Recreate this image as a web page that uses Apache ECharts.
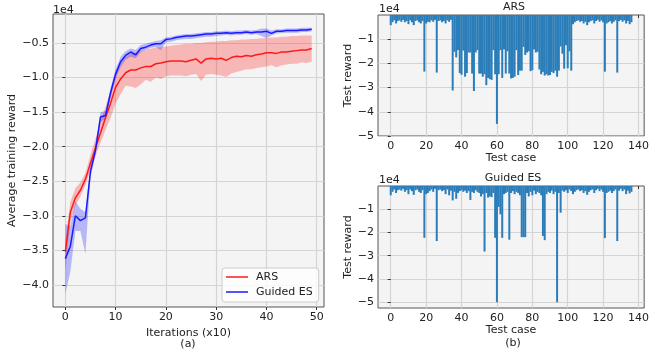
<!DOCTYPE html>
<html>
<head>
<meta charset="utf-8">
<script src="https://cdn.jsdelivr.net/npm/echarts@6/dist/echarts.min.js"></script>
<style>
  html, body { margin: 0; padding: 0; background: #fff; }
  #chart { width: 652px; height: 356px; }
</style>
</head>
<body>
<div id="chart"></div>
<script>
// values are in units of 1e4 (matplotlib offset label)
const arsMean = [-3.52, -2.95, -2.74, -2.63, -2.47, -2.24, -2.02, -1.80, -1.58, -1.37,
  -1.14, -1.02, -0.93, -0.89, -0.89, -0.86, -0.84, -0.84, -0.80, -0.79,
  -0.77, -0.76, -0.76, -0.76, -0.77, -0.75, -0.73, -0.79, -0.73, -0.72,
  -0.73, -0.72, -0.75, -0.71, -0.69, -0.70, -0.68, -0.69, -0.67, -0.66,
  -0.64, -0.64, -0.65, -0.63, -0.63, -0.62, -0.61, -0.60, -0.60, -0.58];
const arsLower = [-3.80, -3.10, -2.85, -2.72, -2.55, -2.34, -2.14, -1.94, -1.76, -1.58,
  -1.38, -1.24, -1.12, -1.13, -1.15, -1.10, -1.03, -1.06, -1.00, -1.02,
  -0.98, -0.97, -0.97, -0.97, -0.98, -0.96, -0.95, -1.05, -0.96, -0.95,
  -0.96, -0.97, -0.99, -0.94, -0.92, -0.90, -0.88, -0.88, -0.86, -0.85,
  -0.84, -0.82, -0.85, -0.82, -0.81, -0.80, -0.80, -0.78, -0.79, -0.77];
const arsUpper = [-3.35, -2.80, -2.60, -2.52, -2.38, -2.12, -1.88, -1.64, -1.42, -1.20,
  -0.92, -0.80, -0.71, -0.66, -0.64, -0.62, -0.60, -0.58, -0.57, -0.56,
  -0.55, -0.54, -0.53, -0.52, -0.51, -0.51, -0.50, -0.50, -0.49, -0.48,
  -0.48, -0.47, -0.47, -0.46, -0.46, -0.45, -0.45, -0.44, -0.44, -0.43,
  -0.43, -0.42, -0.42, -0.41, -0.41, -0.40, -0.40, -0.39, -0.39, -0.39];

const esMean = [-3.62, -3.44, -3.00, -3.07, -3.03, -2.36, -2.05, -1.57, -1.55, -1.22,
  -0.95, -0.77, -0.68, -0.63, -0.67, -0.58, -0.56, -0.53, -0.51, -0.51,
  -0.45, -0.44, -0.42, -0.41, -0.40, -0.40, -0.39, -0.38, -0.37, -0.37,
  -0.36, -0.36, -0.35, -0.36, -0.35, -0.35, -0.34, -0.35, -0.34, -0.34,
  -0.33, -0.36, -0.33, -0.33, -0.32, -0.32, -0.32, -0.31, -0.31, -0.30];
const esLower = [-4.13, -3.81, -3.22, -3.22, -3.55, -2.45, -2.12, -1.64, -1.60, -1.28,
  -1.02, -0.85, -0.74, -0.70, -0.72, -0.63, -0.60, -0.57, -0.56, -0.60,
  -0.49, -0.48, -0.46, -0.45, -0.44, -0.44, -0.43, -0.42, -0.41, -0.41,
  -0.40, -0.39, -0.38, -0.39, -0.38, -0.38, -0.37, -0.38, -0.37, -0.40,
  -0.43, -0.39, -0.36, -0.36, -0.35, -0.35, -0.35, -0.34, -0.34, -0.33];
const esUpper = [-3.12, -3.15, -2.79, -2.90, -2.95, -2.28, -1.98, -1.50, -1.48, -1.15,
  -0.88, -0.70, -0.62, -0.58, -0.60, -0.53, -0.51, -0.49, -0.47, -0.46,
  -0.42, -0.41, -0.39, -0.38, -0.37, -0.37, -0.36, -0.35, -0.34, -0.34,
  -0.33, -0.33, -0.32, -0.33, -0.32, -0.32, -0.31, -0.32, -0.31, -0.29,
  -0.29, -0.32, -0.30, -0.30, -0.29, -0.29, -0.29, -0.28, -0.28, -0.28];

// test reward per test case 0..136
const arsTest = [-0.42, -0.30, -0.22, -0.35, -0.25, -0.22, -0.28, -0.20, -0.30, -0.25,
  -0.38, -0.22, -0.30, -0.42, -0.25, -0.22, -0.30, -0.35, -0.25, -2.34,
  -0.35, -0.28, -0.30, -0.22, -0.28, -0.20, -2.38, -0.25, -0.22, -0.30,
  -0.25, -0.35, -0.22, -0.28, -0.20, -3.12, -1.52, -1.75, -1.45, -2.40,
  -2.47, -1.47, -2.55, -2.40, -1.55, -1.55, -2.42, -3.14, -1.55, -1.45,
  -2.42, -2.42, -2.55, -2.45, -2.90, -2.60, -2.65, -2.68, -1.45, -2.45,
  -4.50, -2.45, -1.45, -2.60, -1.42, -2.42, -1.50, -2.42, -2.62, -2.60,
  -2.55, -1.45, -2.48, -2.30, -2.30, -1.32, -1.65, -1.55, -1.50, -2.32,
  -2.28, -1.42, -1.55, -1.52, -2.25, -2.45, -2.35, -2.50, -2.45, -2.50,
  -2.48, -2.35, -2.40, -2.30, -2.55, -2.30, -1.30, -1.60, -2.22, -1.25,
  -2.20, -1.50, -2.30, -0.38, -0.30, -0.25, -0.22, -0.28, -0.25, -0.35,
  -0.28, -0.42, -0.30, -0.25, -0.22, -0.35, -0.25, -0.20, -0.28, -0.22,
  -0.30, -2.34, -0.35, -0.30, -0.25, -0.35, -0.28, -0.22, -2.38, -0.25,
  -0.20, -0.28, -0.22, -0.35, -0.25, -0.38, -0.30];
const esTest = [-0.40, -0.25, -0.15, -0.30, -0.18, -0.15, -0.20, -0.12, -0.25, -0.18,
  -0.35, -0.15, -0.22, -0.38, -0.18, -0.15, -0.25, -0.30, -0.18, -2.23,
  -0.35, -0.30, -0.22, -0.15, -0.25, -0.12, -2.37, -0.18, -0.15, -0.22,
  -0.18, -0.35, -0.15, -0.40, -0.20, -0.62, -0.25, -0.55, -0.30, -0.22,
  -0.18, -0.25, -0.20, -0.30, -0.22, -0.60, -0.25, -0.30, -0.18, -0.25,
  -0.30, -0.45, -0.35, -2.82, -0.30, -0.50, -0.45, -0.48, -0.30, -2.23,
  -5.00, -0.90, -1.22, -2.23, -0.35, -0.30, -0.25, -2.31, -0.30, -0.22,
  -0.35, -0.25, -0.30, -0.40, -2.20, -2.20, -2.20, -0.30, -0.45, -0.25,
  -0.40, -0.20, -0.35, -0.25, -0.30, -0.40, -2.15, -2.33, -0.35, -0.25,
  -0.30, -0.20, -0.35, -0.25, -5.00, -0.30, -1.15, -0.20, -0.25, -0.18,
  -0.30, -0.15, -0.22, -0.35, -0.25, -0.18, -0.15, -0.22, -0.18, -0.30,
  -0.22, -0.38, -0.25, -0.18, -0.15, -0.30, -0.18, -0.12, -0.22, -0.15,
  -0.25, -2.24, -0.30, -0.25, -0.20, -0.30, -0.22, -0.15, -2.37, -0.20,
  -0.12, -0.22, -0.15, -0.35, -0.20, -0.32, -0.25];

const iterTicks = [0, 10, 20, 30, 40, 50];
const trainTicks = [-4.0, -3.5, -3.0, -2.5, -2.0, -1.5, -1.0, -0.5];
const caseTicks = [0, 20, 40, 60, 80, 100, 120, 140];
const testTicks = [-5, -4, -3, -2, -1];

const FONT = 'DejaVu Sans';
const TEXT = '#222';
const minus = (s) => s.replace('-', '\u2212');
// thin line legend icon (degenerate points keep the icon box 22x12)
const LINE_ICON = 'path://M0,0L0.01,0M0,5.25L22,5.25L22,6.75L0,6.75ZM0,12L0.01,12';

const chart = echarts.init(document.getElementById('chart'));

const gridStyle = {
  show: true,
  backgroundColor: '#f4f4f4',
  borderColor: '#555',
  borderWidth: 1,
};

const makeXAxis = (gridIndex, min, max, ticks, name) => ({
  type: 'value',
  gridIndex: gridIndex,
  min: min,
  max: max,
  name: name,
  nameLocation: 'middle',
  nameGap: 15,
  nameTextStyle: {fontFamily: FONT, fontSize: 11, color: TEXT},
  axisLine: {show: false},
  axisTick: {show: true, length: 3, customValues: ticks, lineStyle: {color: '#333'}},
  axisLabel: {customValues: ticks, margin: 5, fontFamily: FONT, fontSize: 11, color: TEXT},
  splitLine: {show: true, lineStyle: {color: '#d4d4d4', width: 1.2}},
});

const makeYAxis = (gridIndex, min, max, ticks, digits, name, nameGap) => ({
  type: 'value',
  gridIndex: gridIndex,
  min: min,
  max: max,
  name: name,
  nameLocation: 'middle',
  nameGap: nameGap,
  nameTextStyle: {fontFamily: FONT, fontSize: 11, color: TEXT},
  axisLine: {show: false},
  axisTick: {show: true, length: 3, customValues: ticks, lineStyle: {color: '#333'}},
  axisLabel: {
    customValues: ticks,
    margin: 4,
    fontFamily: FONT,
    fontSize: 11,
    color: TEXT,
    formatter: (v) => minus(Number(v).toFixed(digits)),
  },
  splitLine: {show: true, lineStyle: {color: '#d4d4d4', width: 1.2}},
});

const pairs = (xs, ys) => ys.map((y, i) => [xs[i], y]);
const iterations = arsMean.map((_, i) => i);
const cases = arsTest.map((_, i) => i);

const series = [];
// shaded band between lower and upper, as one polygon through the axis scales
const addBand = (name, lower, upper, color) => {
  series.push({
    name: name,
    type: 'custom',
    xAxisIndex: 0,
    yAxisIndex: 0,
    silent: true,
    data: [[iterations[0], lower[0]]],
    renderItem: (params, api) => {
      const top = iterations.map((x, i) => api.coord([x, upper[i]]));
      const bottom = iterations.map((x, i) => api.coord([x, lower[i]])).reverse();
      return {
        type: 'polygon',
        shape: {points: top.concat(bottom)},
        style: {fill: color, stroke: null},
      };
    },
  });
};
const addLine = (name, values, color) => {
  series.push({
    name: name,
    type: 'line',
    xAxisIndex: 0,
    yAxisIndex: 0,
    symbol: 'none',
    color: color,
    lineStyle: {color: color, width: 1.5},
    data: pairs(iterations, values),
  });
};

addBand('arsBand', arsLower, arsUpper, 'rgba(255,0,0,0.25)');
addLine('ARS', arsMean, '#ff1a1a');
addBand('esBand', esLower, esUpper, 'rgba(0,0,255,0.25)');
addLine('Guided ES', esMean, '#1a1aff');

[arsTest, esTest].forEach((values, k) => {
  series.push({
    name: k === 0 ? 'ARS test' : 'Guided ES test',
    type: 'bar',
    xAxisIndex: k + 1,
    yAxisIndex: k + 1,
    barWidth: 2,
    itemStyle: {color: '#2a7db8'},
    data: pairs(cases, values),
  });
});

const text = (str, x, y, align) => ({
  type: 'text',
  x: x,
  y: y,
  style: {
    text: str,
    fill: TEXT,
    font: '11px "' + FONT + '"',
    textAlign: align || 'left',
    textVerticalAlign: 'middle',
  },
});

const option = {
  animation: false,
  grid: [
    Object.assign({left: 53, top: 14, width: 271, height: 293}, gridStyle),
    Object.assign({left: 378, top: 15, width: 271, height: 121}, gridStyle),
    Object.assign({left: 378, top: 186, width: 271, height: 122}, gridStyle),
  ],
  xAxis: [
    makeXAxis(0, -2.45, 51.45, iterTicks, 'Iterations (x10)'),
    makeXAxis(1, -7.2, 143.2, caseTicks, 'Test case'),
    makeXAxis(2, -7.2, 143.2, caseTicks, 'Test case'),
  ],
  yAxis: [
    makeYAxis(0, -4.32, -0.08, trainTicks, 1, 'Average training reward', 35),
    makeYAxis(1, -5, 0, testTicks, 0, 'Test reward', 24),
    makeYAxis(2, -5.25, 0, testTicks, 0, 'Test reward', 24),
  ],
  legend: {
    data: [{name: 'ARS', icon: LINE_ICON}, {name: 'Guided ES', icon: LINE_ICON}],
    orient: 'vertical',
    left: 222,
    top: 268,
    padding: [3, 6, 4, 4],
    itemGap: 3,
    itemWidth: 22,
    itemHeight: 12,
    backgroundColor: 'rgba(255,255,255,0.8)',
    borderColor: '#cccccc',
    borderWidth: 1,
    borderRadius: 3,
    textStyle: {fontFamily: FONT, fontSize: 11, color: TEXT, padding: [0, 0, 0, 3]},
  },
  graphic: [
    text('1e4', 53, 10),
    text('1e4', 379, 9),
    text('1e4', 379, 180),
    text('ARS', 514, 7, 'center'),
    text('Guided ES', 513, 178, 'center'),
    text('(a)', 188, 344, 'center'),
    text('(b)', 513, 343, 'center'),
  ],
  series: series,
};

chart.setOption(option);
</script>
</body>
</html>
